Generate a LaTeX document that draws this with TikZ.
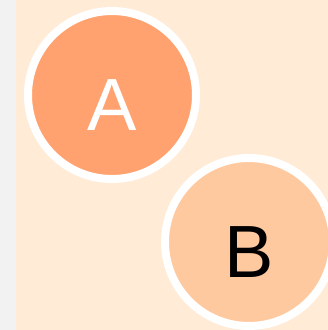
\documentclass[tikz,border=0pt]{standalone}
\usepackage{fontspec}
\setmainfont{Liberation Sans}
\usepackage{xcolor}
\usepackage{tikz}
\usetikzlibrary{positioning}
\definecolor{figpeach}{RGB}{255,235,214}
\definecolor{figstrip}{RGB}{242,242,242}
\definecolor{figdeep}{RGB}{255,162,111}
\definecolor{figlight}{RGB}{255,201,160}
\tikzstyle{disc} = [circle, draw=white, line width=8pt,
minimum size=168pt, inner sep=0pt,
text height=71pt, text depth=0pt,
font=\fontsize{74}{80}\selectfont]

\begin{document}
\begin{tikzpicture}[x=1pt, y=-1pt]
    \useasboundingbox (0,0) rectangle (328,330);
    \clip (0,0) rectangle (328,330);
    \fill[figstrip] (0,0) rectangle (16,330);
    \fill[figpeach] (16,0) rectangle (328,330);

    \node (a) [disc, fill=figdeep, text=white] at (112,95) {A};
    \node (b) [disc, fill=figlight, text=black] at (249,242) {B};
        \end{tikzpicture}
\end{document}
